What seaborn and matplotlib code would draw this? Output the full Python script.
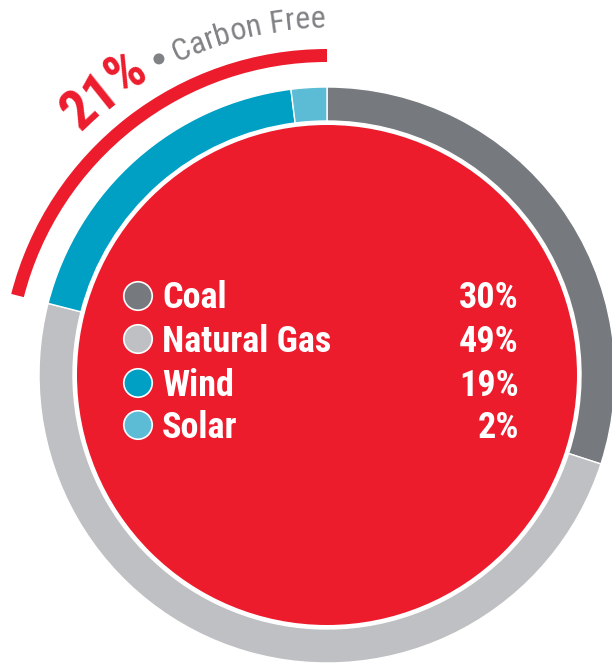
import numpy as np
import matplotlib
matplotlib.use("Agg")
import matplotlib.pyplot as plt
from matplotlib.patches import Circle, Wedge
from matplotlib import font_manager
import seaborn as sns

# Generation mix
sources = ["Coal", "Natural Gas", "Wind", "Solar"]
shares = [30, 49, 19, 2]
share_labels = ["30%", "49%", "19%", "2%"]
carbon_free_share = 21
carbon_free_label = "21%"
carbon_free_text = "Carbon Free"

sns.set_theme(style="white")
palette = sns.color_palette(["#76797d", "#bfc0c3", "#00a0c5", "#5cbcd6"])
RED = "#ec1c2d"
GRAY_TEXT = "#808285"

FAMILY = ["Roboto Condensed", "DejaVu Sans"]
plt.rcParams["font.family"] = FAMILY

W, H = 612, 665
fig = plt.figure(figsize=(W / 100, H / 100), dpi=100)
ax = fig.add_axes([0, 0, 1, 1])

cx, cy = 327, H - 375
R_OUT, RING_W, R_DISC = 288, 34, 250

ax.pie(shares, colors=palette, startangle=90, counterclock=False,
       radius=R_OUT, center=(cx, cy),
       wedgeprops=dict(width=RING_W, edgecolor="white", linewidth=1))
ax.add_patch(Circle((cx, cy), R_DISC, facecolor=RED, edgecolor="none", zorder=3))

# Carbon-free arc spanning wind + solar
cf_end = 90 + carbon_free_share / 100 * 360
ax.add_patch(Wedge((cx, cy), 326, 90, cf_end, width=13,
                   facecolor=RED, edgecolor="none"))

ax.set_xlim(0, W)
ax.set_ylim(0, H)
ax.set_aspect("equal")
ax.axis("off")

renderer = fig.canvas.get_renderer()


def char_widths(s, size, weight):
    prop = font_manager.FontProperties(family=FAMILY, size=size, weight=weight)
    return [renderer.get_text_width_height_descent(ch, prop, ismath=False)[0]
            for ch in s]


def curved_text(s, r, start_deg, size, weight, color, tracking=0.0):
    """Lay characters along a circle of radius r, running clockwise."""
    widths = char_widths(s, size, weight)
    pos = 0.0
    for ch, w in zip(s, widths):
        mid = pos + w / 2
        th = np.radians(start_deg) - mid / r
        x = cx + r * np.cos(th)
        y = cy + r * np.sin(th)
        ax.text(x, y, ch, fontsize=size, fontweight=weight, color=color,
                rotation=np.degrees(th) - 90, rotation_mode="anchor",
                ha="center", va="baseline")
        pos += w + tracking


curved_text(carbon_free_label, 346, 135.4, 40, "heavy", RED, tracking=-1.5)
th_dot = np.radians(118.0)
ax.add_patch(Circle((cx + 358 * np.cos(th_dot), cy + 358 * np.sin(th_dot)), 5.5,
                    facecolor=GRAY_TEXT, edgecolor="none"))
curved_text(carbon_free_text, 347, 115.6, 23, "normal", GRAY_TEXT)

# Legend inside the disc
row_y = [296, 339, 383, 425]
ax.scatter([138] * len(sources), [H - y for y in row_y], s=420, c=palette,
           edgecolors="white", linewidths=1.2, zorder=5)
for name, lab, y in zip(sources, share_labels, row_y):
    ax.text(162, H - y - 12.5, name, fontsize=26, fontweight="heavy",
            color="white", ha="left", va="baseline", zorder=5)
    ax.text(519, H - y - 12.5, lab, fontsize=26, fontweight="heavy",
            color="white", ha="right", va="baseline", zorder=5)

fig.savefig("out.png", dpi=100, facecolor="white")
